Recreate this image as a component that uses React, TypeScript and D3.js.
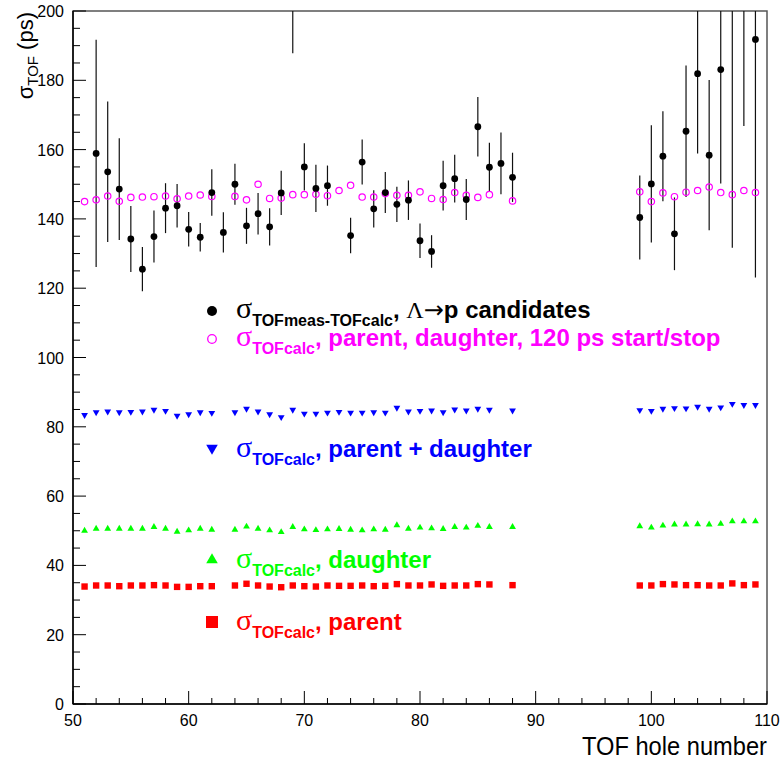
import React from "react";
import * as d3 from "d3";

// TOF holes that have the calculated resolutions
const calcHoles = [
  51, 52, 53, 54, 55, 56, 57, 58, 59, 60, 61, 62,
  64, 65, 66, 67, 68, 69, 70, 71, 72, 73, 74, 75, 76, 77, 78, 79, 80, 81, 82, 83, 84, 85, 86,
  88,
  99, 100, 101, 102, 103, 104, 105, 106, 107, 108, 109,
];
// sigma TOFcalc, parent, daughter, 120 ps start/stop
const sigmaStartStop = [
  145.0, 145.5, 146.6, 145.1, 146.2, 146.3, 146.4, 146.6, 145.8, 146.6, 146.9, 146.5,
  146.5, 145.5, 150.0, 145.9, 146.0, 147.0, 147.0, 147.1, 146.7, 148.2, 149.7, 146.3, 146.3, 147.3, 146.8, 146.8, 147.8, 145.9, 145.6, 147.6, 146.8, 146.2, 147.0,
  145.2,
  147.8, 145.0, 147.5, 146.4, 147.7, 148.2, 149.2, 147.6, 147.0, 148.2, 147.6,
];
// sigma TOFcalc, parent + daughter
const sigmaParentDaughter = [
  83.4, 84.2, 84.4, 84.2, 84.3, 84.4, 84.9, 84.6, 83.2, 83.6, 84.2, 84.0,
  84.2, 85.2, 84.4, 83.6, 82.8, 84.9, 83.8, 83.8, 84.1, 84.3, 84.1, 84.1, 84.2, 84.1, 85.5, 84.4, 84.6, 84.7, 84.2, 85.0, 84.7, 85.2, 84.9,
  84.7,
  84.8, 84.6, 85.2, 85.4, 85.3, 85.8, 85.2, 85.6, 86.6, 86.3, 86.3,
];
// sigma TOFcalc, daughter
const sigmaDaughter = [
  50.0, 50.6, 50.6, 50.6, 50.6, 50.6, 51.1, 50.6, 49.7, 50.1, 50.6, 50.3,
  50.3, 51.2, 50.6, 50.1, 49.6, 51.1, 50.4, 50.2, 50.4, 50.5, 50.3, 50.1, 50.4, 50.3, 51.6, 50.6, 50.9, 50.7, 50.5, 51.1, 50.9, 51.4, 51.1,
  51.1,
  51.3, 50.9, 51.5, 51.8, 51.8, 51.9, 51.8, 52.0, 52.7, 52.7, 52.7,
];
// sigma TOFcalc, parent
const sigmaParent = [
  33.9, 34.2, 34.2, 34.0, 34.2, 34.2, 34.3, 34.2, 33.8, 33.8, 34.0, 34.0,
  34.2, 34.7, 34.2, 33.9, 33.7, 34.2, 34.0, 33.9, 34.2, 34.1, 34.1, 34.2, 34.0, 34.1, 34.6, 34.2, 34.2, 34.5, 34.1, 34.2, 34.2, 34.6, 34.5,
  34.3,
  34.2, 34.2, 34.6, 34.5, 34.3, 34.3, 34.2, 34.2, 34.8, 34.3, 34.5,
];

// measured sigma TOFmeas-TOFcalc, Lambda -> p candidates
const measHoles = [
  52, 53, 54, 55, 56, 57, 58, 59, 60, 61, 62, 63, 64, 65, 66, 67, 68, 69, 70, 71, 72,
  74, 75, 76, 77, 78, 79, 80, 81, 82, 83, 84, 85, 86, 87, 88,
  99, 100, 101, 102, 103, 104, 105, 106, 107, 108, 109,
];
const sigmaMeas = [
  158.9, 153.6, 148.6, 134.2, 125.5, 134.9, 143.1, 143.8, 137.0, 134.7, 147.6, 136.1, 150.0, 138.0, 141.5, 137.7, 147.5, 205.0, 155.0, 148.8, 149.6,
  135.2, 156.4, 142.9, 147.6, 144.2, 145.4, 133.7, 130.6, 149.6, 151.6, 145.6, 166.6, 154.9, 156.0, 152.0,
  140.4, 150.1, 158.1, 135.7, 165.3, 181.9, 158.4, 183.1, 215.0, 210.0, 191.8,
];
const sigmaMeasErr = [
  32.8, 20.3, 14.7, 9.5, 6.4, 7.5, 7.2, 6.3, 5.0, 4.1, 6.7, 5.8, 5.9, 5.2, 6.0, 5.4, 6.4, 17.2, 6.8, 6.8, 5.8,
  5.1, 6.5, 5.4, 5.9, 5.1, 5.7, 5.0, 4.7, 7.2, 6.9, 5.9, 8.6, 7.1, 8.9, 7.1,
  12.1, 16.9, 13.0, 10.5, 19.0, 23.0, 21.7, 32.9, 83.3, 43.2, 68.7,
];

const xTicks = [50, 60, 70, 80, 90, 100, 110];
const yTicks = [0, 20, 40, 60, 80, 100, 120, 140, 160, 180, 200];

const SANS = "'Liberation Sans', Arial, Helvetica, sans-serif";
const SERIF = "'Liberation Serif', 'Times New Roman', serif";

const W = 782;
const H = 763;
const plot = { left: 73, right: 767, top: 11, bottom: 704 };

function LegendLabel({ x, y, color, sub, children }) {
  return (
    <text x={x} y={y} fill={color} fontFamily={SANS} fontWeight="bold" fontSize={24}>
      <tspan fontFamily={SERIF} fontWeight="normal" fontSize={30}>σ</tspan>
      <tspan fontSize={16} dy={8}>{sub}</tspan>
      <tspan dy={-8}>, </tspan>
      {children}
    </text>
  );
}

export default function App() {
  const x = d3.scaleLinear().domain([50, 110]).range([plot.left, plot.right]);
  const y = d3.scaleLinear().domain([0, 200]).range([plot.bottom, plot.top]);

  const xMinor = d3.range(50, 110.01, 2).filter((v) => v % 10 !== 0);
  const yMinor = d3.range(0, 200.01, 5).filter((v) => v % 20 !== 0);

  const tri = d3.symbol().type(d3.symbolTriangle).size(20)();
  const triBig = d3.symbol().type(d3.symbolTriangle).size(58)();

  const legendX = 212;

  return (
    <svg
      width={W}
      height={H}
      style={{ position: "absolute", left: 0, top: 0, background: "#fff" }}
    >
      <defs>
        <clipPath id="frameClip">
          <rect x={plot.left} y={plot.top} width={plot.right - plot.left} height={plot.bottom - plot.top} />
        </clipPath>
      </defs>

      {/* frame */}
      <rect
        x={plot.left}
        y={plot.top}
        width={plot.right - plot.left}
        height={plot.bottom - plot.top}
        fill="none"
        stroke="#555"
        strokeWidth={1.5}
      />
      <line x1={plot.left} x2={plot.right} y1={plot.bottom} y2={plot.bottom} stroke="#000" strokeWidth={1.5} />
      <line x1={plot.left} x2={plot.left} y1={plot.top} y2={plot.bottom} stroke="#000" strokeWidth={1.5} />

      {/* x ticks */}
      {xTicks.map((t) => (
        <g key={"xt" + t}>
          <line x1={x(t)} x2={x(t)} y1={plot.bottom} y2={plot.bottom - 13} stroke="#000" />
          <text x={x(t)} y={plot.bottom + 22} textAnchor="middle" fontFamily={SANS} fontSize={16}>
            {t}
          </text>
        </g>
      ))}
      {xMinor.map((t) => (
        <line key={"xm" + t} x1={x(t)} x2={x(t)} y1={plot.bottom} y2={plot.bottom - 6} stroke="#000" />
      ))}

      {/* y ticks */}
      {yTicks.map((t) => (
        <g key={"yt" + t}>
          <line x1={plot.left} x2={plot.left + 13} y1={y(t)} y2={y(t)} stroke="#000" />
          <text x={plot.left - 9} y={y(t) + 6} textAnchor="end" fontFamily={SANS} fontSize={16}>
            {t}
          </text>
        </g>
      ))}
      {yMinor.map((t) => (
        <line key={"ym" + t} x1={plot.left} x2={plot.left + 7} y1={y(t)} y2={y(t)} stroke="#000" />
      ))}

      {/* axis titles */}
      <text
        x={plot.right}
        y={755}
        textAnchor="end"
        fontFamily={SANS}
        fontSize={25}
        textLength={185}
        lengthAdjust="spacingAndGlyphs"
      >
        TOF hole number
      </text>
      <text transform={`translate(33, 12) rotate(-90)`} textAnchor="end" fontFamily={SANS} fontSize={22}>
        <tspan>σ</tspan>
        <tspan fontSize={15} dy={5}>TOF</tspan>
        <tspan dy={-5}> (ps)</tspan>
      </text>

      <g clipPath="url(#frameClip)">
        {/* red squares: parent */}
        {calcHoles.map((h, i) => (
          <rect key={"r" + h} x={x(h) - 3.2} y={y(sigmaParent[i]) - 3.2} width={6.4} height={6.4} fill="#ff0000" />
        ))}
        {/* green triangles: daughter */}
        {calcHoles.map((h, i) => (
          <path key={"g" + h} d={tri} transform={`translate(${x(h)},${y(sigmaDaughter[i])})`} fill="#00ff00" />
        ))}
        {/* blue triangles: parent + daughter */}
        {calcHoles.map((h, i) => (
          <path
            key={"b" + h}
            d={tri}
            transform={`translate(${x(h)},${y(sigmaParentDaughter[i])}) rotate(180)`}
            fill="#0000ff"
          />
        ))}
        {/* error bars */}
        {measHoles.map((h, i) => (
          <line
            key={"e" + h}
            x1={x(h)}
            x2={x(h)}
            y1={y(sigmaMeas[i] - sigmaMeasErr[i])}
            y2={y(sigmaMeas[i] + sigmaMeasErr[i])}
            stroke="#111"
            strokeWidth={1.2}
          />
        ))}
        {/* open magenta circles */}
        {calcHoles.map((h, i) => (
          <circle key={"m" + h} cx={x(h)} cy={y(sigmaStartStop[i])} r={3.2} fill="none" stroke="#ff00ff" strokeWidth={1.2} />
        ))}
        {/* black measured points */}
        {measHoles.map((h, i) => (
          <circle key={"k" + h} cx={x(h)} cy={y(sigmaMeas[i])} r={3.4} fill="#000" />
        ))}
      </g>

      {/* legend */}
      <circle cx={legendX} cy={311} r={5} fill="#000" />
      <LegendLabel x={236} y={318} color="#000" sub="TOFmeas-TOFcalc">
        <tspan fontFamily={SERIF} fontWeight="normal">Λ</tspan>
        <tspan fontFamily="'DejaVu Sans', sans-serif" fontWeight="normal">→</tspan>
        <tspan>p candidates</tspan>
      </LegendLabel>

      <circle cx={legendX} cy={339} r={4.3} fill="none" stroke="#ff00ff" strokeWidth={1.3} />
      <LegendLabel x={236} y={346} color="#ff00ff" sub="TOFcalc">
        parent, daughter, 120 ps start/stop
      </LegendLabel>

      <path d={triBig} transform={`translate(${legendX},448) rotate(180)`} fill="#0000ff" />
      <LegendLabel x={236} y={457} color="#0000ff" sub="TOFcalc">
        parent + daughter
      </LegendLabel>

      <path d={triBig} transform={`translate(${legendX},560)`} fill="#00ff00" />
      <LegendLabel x={236} y={568} color="#00ff00" sub="TOFcalc">
        daughter
      </LegendLabel>

      <rect x={legendX - 6} y={616} width={12} height={12} fill="#ff0000" />
      <LegendLabel x={236} y={630} color="#ff0000" sub="TOFcalc">
        parent
      </LegendLabel>
    </svg>
  );
}
